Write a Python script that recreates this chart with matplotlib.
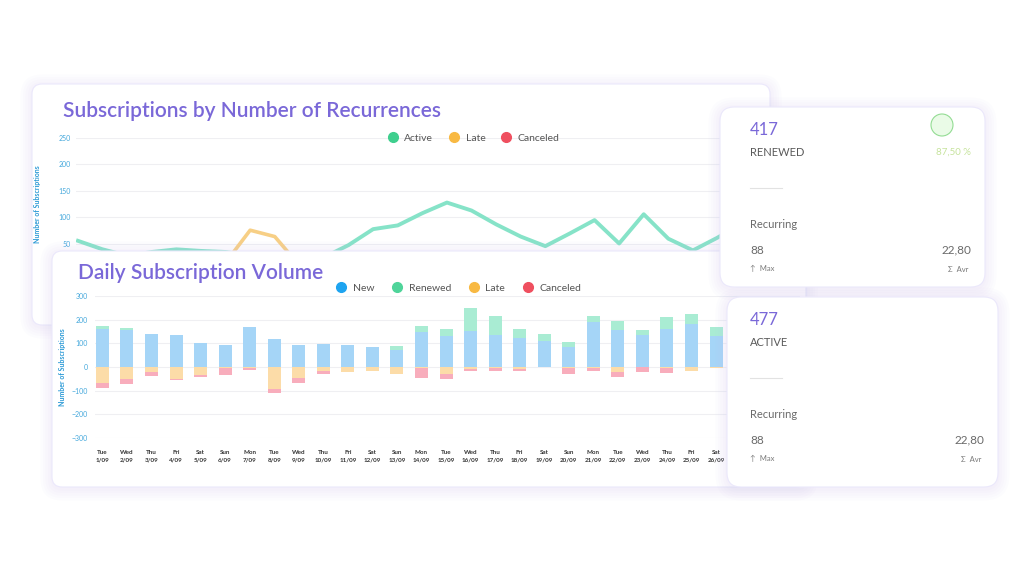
import matplotlib
matplotlib.use("Agg")
import matplotlib.pyplot as plt
from matplotlib.patches import FancyBboxPatch, Circle
from matplotlib.lines import Line2D
from matplotlib.transforms import IdentityTransform

plt.rcParams["font.family"] = ["Lato", "DejaVu Sans"]

W, H = 1024, 576

# --- back chart: subscriptions by number of recurrences ---
recurrences = list(range(1, 29))
active = [56, 40, 28, 35, 40, 37, 35, 28, 18, 15, 25, 48, 78, 85,
          108, 128, 113, 87, 64, 46, 70, 95, 51, 106, 60, 38, 62, 90]
late = [0, 0, 0, 0, 0, 2, 15, 76, 64, 10, 0, 0, 0, 0,
        0, 0, 0, 0, 0, 0, 0, 0, 0, 0, 0, 0, 0, 0]
canceled = [4, 6, 5, 3, 2, 4, 3, 2, 5, 4, 3, 2, 3, 4,
            2, 3, 2, 4, 3, 2, 3, 2, 4, 3, 2, 3, 2, 3]

# --- front chart: daily subscription volume ---
days = ["Tue\n1/09", "Wed\n2/09", "Thu\n3/09", "Fri\n4/09", "Sat\n5/09", "Sun\n6/09",
        "Mon\n7/09", "Tue\n8/09", "Wed\n9/09", "Thu\n10/09", "Fri\n11/09", "Sat\n12/09",
        "Sun\n13/09", "Mon\n14/09", "Tue\n15/09", "Wed\n16/09", "Thu\n17/09", "Fri\n18/09",
        "Sat\n19/09", "Sun\n20/09", "Mon\n21/09", "Tue\n22/09", "Wed\n23/09", "Thu\n24/09",
        "Fri\n25/09", "Sat\n26/09"]
new = [159, 157, 141, 136, 103, 94, 170, 119, 94, 97, 94, 84, 73, 146, 131, 151,
       137, 121, 111, 83, 190, 156, 137, 159, 181, 133]
renewed = [13, 9, 0, 0, 0, 0, 0, 0, 0, 0, 0, 0, 17, 26, 29, 100,
           80, 41, 30, 23, 27, 37, 20, 51, 41, 36]
late_day = [69, 51, 21, 51, 34, 3, 3, 94, 47, 16, 21, 19, 29, 6, 30, 7,
            3, 9, 2, 4, 3, 20, 0, 6, 16, 6]
canceled_day = [20, 20, 16, 3, 7, 29, 9, 14, 19, 13, 0, 0, 0, 40, 20, 11,
                14, 7, 0, 24, 14, 23, 23, 19, 0, 0]

# --- KPI cards ---
cards = [
    {"box": (720, 107, 985, 287), "value": "417", "label": "RENEWED", "pct": "87,50 %"},
    {"box": (727, 297, 998, 487), "value": "477", "label": "ACTIVE", "pct": None},
]
card_max = "88"
card_avg = "22,80"

PURPLE = "#7a68d8"
TICK_BLUE = "#45a8dc"
LABEL_BLUE = "#2c9ad6"
GRID = "#efeff2"


def frac(x0, y0, x1, y1):
    return [x0 / W, 1 - y1 / H, (x1 - x0) / W, (y1 - y0) / H]


def card(fig, x0, y0, x1, y1, z, radius=12):
    # soft lavender glow
    for k in range(5):
        pad = 1.5 + k * 2.5
        fig.add_artist(FancyBboxPatch(
            (x0 - pad, H - y1 - pad - 2), (x1 - x0) + 2 * pad, (y1 - y0) + 2 * pad,
            boxstyle=f"round,pad=0,rounding_size={radius + pad}",
            transform=IdentityTransform(), fc="#c4b8f5", ec="none",
            alpha=0.035, zorder=z - 0.1))
    fig.add_artist(FancyBboxPatch(
        (x0, H - y1), x1 - x0, y1 - y0,
        boxstyle=f"round,pad=0,rounding_size={radius}",
        transform=IdentityTransform(), fc="white", ec="#ebe8fb", lw=0.8, zorder=z))


fig = plt.figure(figsize=(W / 100, H / 100), dpi=100)
fig.patch.set_facecolor("white")

# back card
card(fig, 32, 84, 770, 325, 1, radius=10)
fig.text(63 / W, 1 - 117 / H, "Subscriptions by Number of Recurrences", color=PURPLE,
         fontsize=15, fontweight="semibold", zorder=1.5)

ax1 = fig.add_axes(frac(76, 137.7, 765, 270.6))
ax1.set_zorder(2)
ax1.patch.set_visible(False)
xi = [r - 1 for r in recurrences]
ax1.plot(xi, canceled, color="#f29aa6", lw=2.6, solid_joinstyle="round")
ax1.plot(xi, late, color="#f7cf85", lw=2.6, solid_joinstyle="round")
ax1.plot(xi, active, color="#86e3c8", lw=2.8, solid_joinstyle="round")
ax1.set_xlim(-0.08, 27.93)
ax1.set_ylim(0, 250)
ax1.set_yticks([50, 100, 150, 200, 250])
ax1.set_xticks([])
ax1.grid(axis="y", color=GRID, lw=0.8)
ax1.set_axisbelow(True)
for s in ax1.spines.values():
    s.set_visible(False)
ax1.tick_params(axis="y", length=0, pad=4, labelsize=5, labelcolor=TICK_BLUE)
ax1.set_ylabel("Number of Subscriptions", fontsize=5, fontweight="bold",
               color=LABEL_BLUE, labelpad=12)
h1 = [Line2D([], [], ls="", marker="o", markersize=7, color=c)
      for c in ["#3fcf8e", "#f8b943", "#ef4f5f"]]
ax1.legend(h1, ["Active", "Late", "Canceled"], ncol=3, frameon=False, loc="center",
           bbox_to_anchor=(471 / W, 1 - 138 / H), bbox_transform=fig.transFigure,
           fontsize=7.5, labelcolor="#555555", handletextpad=0.1, columnspacing=1.0)

# front card
card(fig, 52, 251, 806, 487, 3, radius=10)
fig.text(78 / W, 1 - 279 / H, "Daily Subscription Volume", color=PURPLE,
         fontsize=15, fontweight="semibold", zorder=3.5)

ax2 = fig.add_axes(frac(95, 296, 800, 438))
ax2.set_zorder(4)
ax2.patch.set_visible(False)
x = list(range(len(days)))
bw = 0.53
ax2.bar(x, new, width=bw, color="#a5d5f7")
ax2.bar(x, renewed, width=bw, bottom=new, color="#a9ecd3")
ax2.bar(x, [-v for v in late_day], width=bw, color="#fcdca8")
ax2.bar(x, [-v for v in canceled_day], width=bw, bottom=[-v for v in late_day],
        color="#f8adbc")
ax2.set_xlim(-0.3, 28.42)
ax2.set_ylim(-300, 300)
ax2.set_yticks([-300, -200, -100, 0, 100, 200, 300])
ax2.set_xticks(x)
ax2.set_xticklabels(days, fontsize=4.5, fontweight="bold", color="#333333", linespacing=1.6)
ax2.grid(axis="y", color=GRID, lw=0.8)
ax2.set_axisbelow(True)
for s in ax2.spines.values():
    s.set_visible(False)
ax2.tick_params(axis="y", length=0, pad=5, labelsize=5, labelcolor=TICK_BLUE)
ax2.tick_params(axis="x", length=0, pad=9)
ax2.set_ylabel("Number of Subscriptions", fontsize=5, fontweight="bold",
               color=LABEL_BLUE, labelpad=4)
h2 = [Line2D([], [], ls="", marker="o", markersize=7, color=c)
      for c in ["#1ea4f0", "#4fd49a", "#f8b943", "#ef4f5f"]]
ax2.legend(h2, ["New", "Renewed", "Late", "Canceled"], ncol=4, frameon=False, loc="center",
           bbox_to_anchor=(456 / W, 1 - 288 / H), bbox_transform=fig.transFigure,
           fontsize=7.5, labelcolor="#555555", handletextpad=0.1, columnspacing=1.2)

# KPI cards
for i, c in enumerate(cards):
    x0, y0, x1, y1 = c["box"]
    z = 5 + i
    card(fig, x0, y0, x1, y1, z, radius=14)
    lx = 750
    rx = x1 - 14
    fig.text(lx / W, 1 - (y0 + 23) / H, c["value"], color=PURPLE, fontsize=12,
             va="center", zorder=z + 0.5)
    fig.text(lx / W, 1 - (y0 + 45) / H, c["label"], color="#5a5a5a", fontsize=8,
             va="center", zorder=z + 0.5)
    if c["pct"]:
        fig.text(rx / W, 1 - (y0 + 45) / H, c["pct"], color="#c6e39c", fontsize=7,
                 ha="right", va="center", zorder=z + 0.5)
        fig.add_artist(Circle((942, H - (y0 + 18)), 11, transform=IdentityTransform(),
                              fc="#eafbe7", ec="#93dc93", lw=0.8, zorder=z + 0.5))
    fig.add_artist(Line2D([lx, lx + 32], [H - (y0 + 81), H - (y0 + 81)],
                          transform=IdentityTransform(), color="#e2e2e2", lw=0.8,
                          zorder=z + 0.5))
    fig.text(lx / W, 1 - (y0 + 117) / H, "Recurring", color="#6a6a6a", fontsize=8,
             va="center", zorder=z + 0.5)
    fig.text(lx / W, 1 - (y0 + 143) / H, card_max, color="#6a6a6a", fontsize=8.5,
             va="center", zorder=z + 0.5)
    fig.text(rx / W, 1 - (y0 + 143) / H, card_avg, color="#6a6a6a", fontsize=8.5,
             ha="right", va="center", zorder=z + 0.5)
    fig.text(lx / W, 1 - (y0 + 162) / H, "↑  Max", color="#7a7a7a", fontsize=5.5,
             va="center", zorder=z + 0.5)
    fig.text((rx - 3) / W, 1 - (y0 + 162) / H, "Σ  Avr", color="#7a7a7a", fontsize=5.5,
             ha="right", va="center", zorder=z + 0.5)

fig.savefig("out.png", dpi=100)
